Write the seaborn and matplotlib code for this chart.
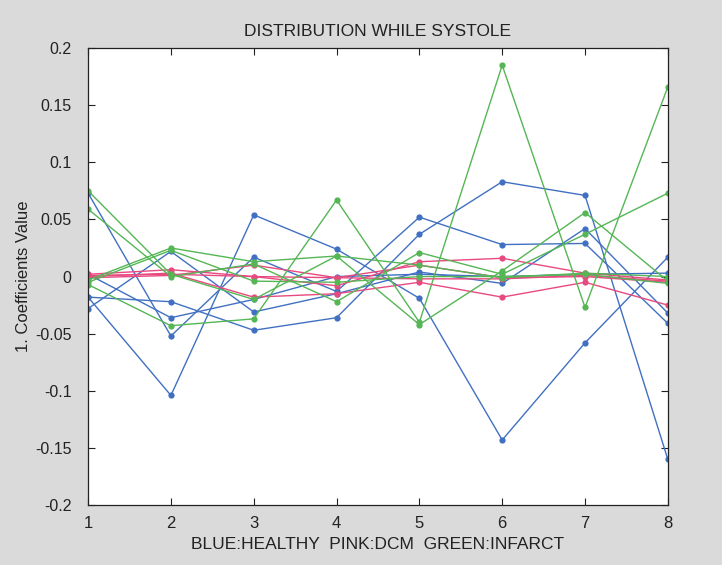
import numpy as np
import pandas as pd
import matplotlib
matplotlib.use("Agg")
import matplotlib.pyplot as plt
import seaborn as sns
from matplotlib.ticker import FuncFormatter

# coefficient index on x axis
coef_idx = [1, 2, 3, 4, 5, 6, 7, 8]

# healthy (blue)
healthy = {
    "H1": [0.073, -0.052, 0.017, -0.013, 0.052, 0.028, 0.029, -0.041],
    "H2": [-0.018, -0.104, 0.054, 0.024, -0.019, -0.143, -0.058, 0.017],
    "H3": [-0.028, 0.022, -0.031, -0.015, 0.004, -0.006, 0.042, -0.032],
    "H4": [-0.018, -0.022, -0.047, -0.036, 0.037, 0.083, 0.071, -0.160],
    "H5": [0.002, -0.036, -0.020, 0.000, 0.002, 0.000, 0.002, 0.003],
}
# DCM (pink)
dcm = {
    "D1": [0.002, 0.006, 0.000, -0.008, 0.013, 0.016, 0.003, -0.003],
    "D2": [0.000, 0.003, -0.018, -0.015, -0.005, -0.018, -0.005, -0.025],
    "D3": [-0.001, 0.001, 0.010, -0.001, 0.010, -0.001, 0.000, -0.005],
    "D4": [0.001, 0.002, 0.000, -0.001, -0.002, -0.002, 0.001, -0.004],
}
# infarct (green)
infarct = {
    "I1": [-0.007, -0.043, -0.037, 0.067, -0.040, 0.185, -0.027, 0.166],
    "I2": [0.075, 0.002, -0.020, 0.018, -0.042, 0.005, 0.056, -0.004],
    "I3": [0.059, 0.000, 0.011, -0.022, 0.021, 0.002, 0.037, 0.073],
    "I4": [-0.003, 0.025, 0.013, 0.018, 0.010, -0.001, 0.003, 0.000],
    "I5": [-0.005, 0.023, -0.004, -0.005, 0.000, 0.000, 0.002, -0.006],
}

groups = [("healthy", healthy), ("dcm", dcm), ("infarct", infarct)]
colors = {"healthy": "#4170c2", "dcm": "#e84a7f", "infarct": "#55b655"}

rows = []
for grp, series in groups:
    for name, vals in series.items():
        for x, v in zip(coef_idx, vals):
            rows.append({"group": grp, "series": name, "x": x, "value": v})
df = pd.DataFrame(rows)

sns.set_style("ticks")
plt.rcParams["font.family"] = ["Liberation Sans", "DejaVu Sans"]

fig = plt.figure(figsize=(7.22, 5.65), dpi=100, facecolor="#dadada")
ax = fig.add_axes([0.122, 0.106, 0.803, 0.809])
ax.set_facecolor("white")

sns.lineplot(data=df, x="x", y="value", hue="group", units="series",
             estimator=None, palette=colors, marker="o", markersize=4.5,
             markeredgewidth=0, linewidth=1.0, legend=False, ax=ax,
             sort=False)

ax.set_xlim(1, 8)
ax.set_ylim(-0.2, 0.2)
ax.set_xticks(coef_idx)
ax.set_yticks([-0.2, -0.15, -0.1, -0.05, 0, 0.05, 0.1, 0.15, 0.2])
ax.yaxis.set_major_formatter(FuncFormatter(lambda v, p: "%g" % round(v, 3)))
ax.tick_params(direction="in", top=True, right=True, length=5,
               labelsize=12, colors="#222222")
ax.tick_params(axis="y", pad=12, labelsize=11.5)
ax.tick_params(axis="x", pad=8)
for s in ax.spines.values():
    s.set_color("#222222")
    s.set_linewidth(0.9)

ax.set_title("DISTRIBUTION WHILE SYSTOLE", fontsize=12.5, color="#222222", pad=9)
ax.set_xlabel("BLUE:HEALTHY  PINK:DCM  GREEN:INFARCT", fontsize=12.5,
              color="#222222", labelpad=4)
ax.set_ylabel("1. Coefficients Value", fontsize=12, color="#222222")
ax.yaxis.set_label_coords(-0.098, 0.5)

fig.savefig("out.png", dpi=100, facecolor=fig.get_facecolor())
